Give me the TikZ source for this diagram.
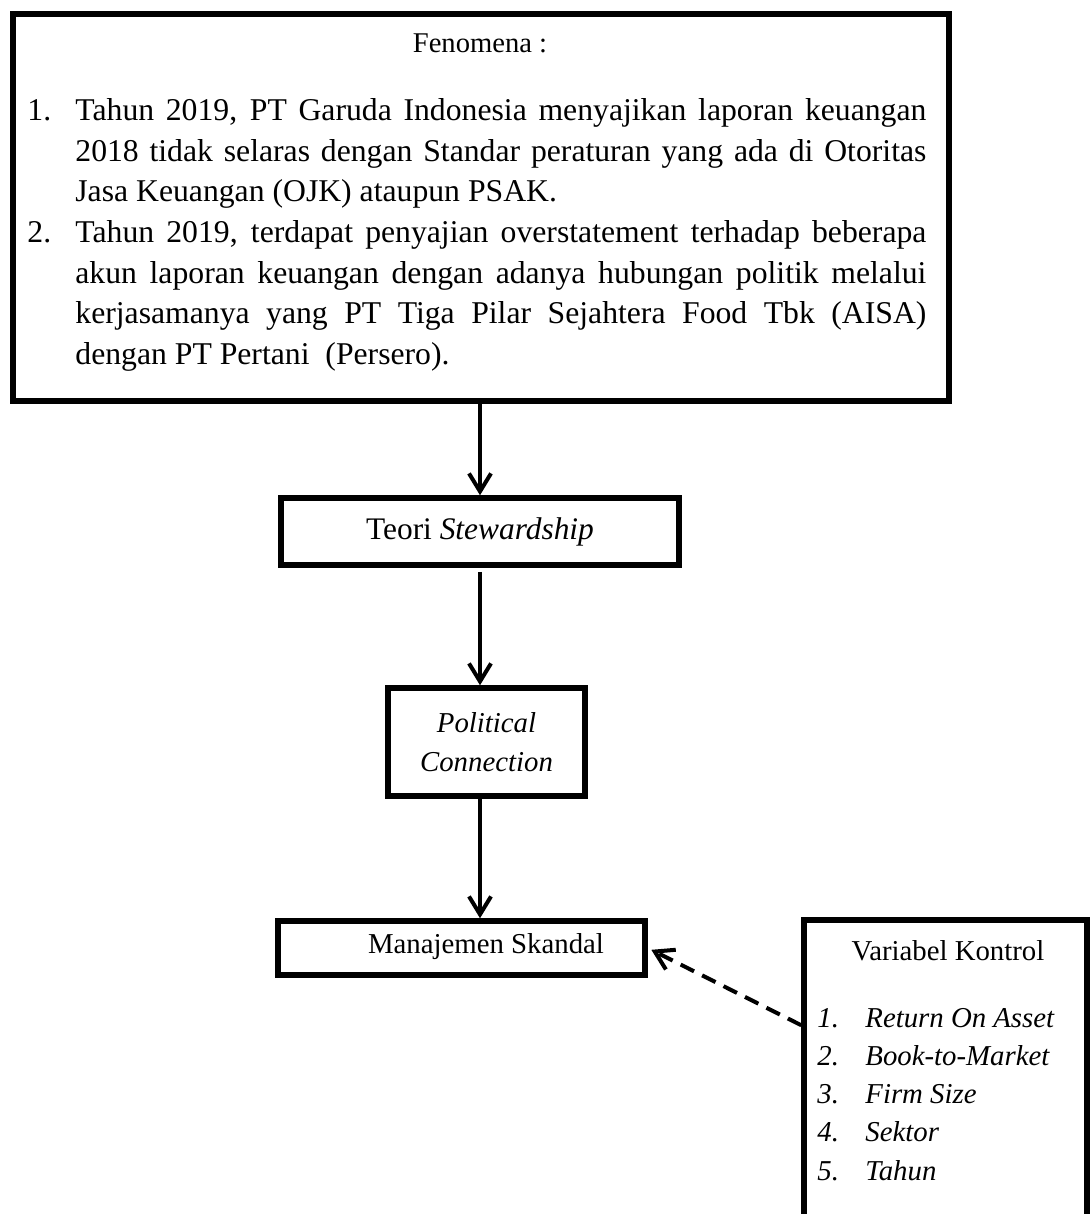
\documentclass[tikz,border=0pt]{standalone}
\usepackage{fontspec}
\setmainfont{Liberation Serif}
\usetikzlibrary{arrows.meta}

\newcommand{\bigtext}{\fontsize{15.85}{20.25}\selectfont}
\newcommand{\midtext}{\fontsize{15.7}{19.5}\selectfont}
\newcommand{\smalltext}{\fontsize{14.4}{19.15}\selectfont}

\begin{document}
\begin{tikzpicture}[x=0.5pt,y=-0.5pt]
	\tikzstyle{box}=[draw, line width=2.75pt, inner sep=0pt]
	\tikzstyle{flow}=[draw, line width=2pt, -{Straight Barb[length=9pt,width=11pt]}]
	\tikzstyle{ctrl}=[flow, dash pattern=on 7.5pt off 4.5pt]
	\tikzstyle{item}=[font=\bigtext, anchor=base west, inner sep=0pt]
	\useasboundingbox (0,0) rectangle (1091,1214);
	\clip (0,0) rectangle (1091,1214);
	% fenomena
	\node [box, minimum width=468pt, minimum height=193.5pt] (fen) at (481,207.5) {};
	\node [font=\fontsize{14.3}{17}\selectfont, anchor=base] (fentitle) at (480,53) {Fenomena :};
	\node [item] (n1) at (27,121) {1.};
	\node [item, text width=425.5pt, align=justify] (f1) at (75,121) {Tahun 2019, PT Garuda Indonesia menyajikan laporan keuangan\linebreak 2018 tidak selaras dengan Standar peraturan yang ada di Otoritas\linebreak Jasa Keuangan (OJK) ataupun PSAK.};
	\node [item] (n2) at (27,242.5) {2.};
	\node [item, text width=425.5pt, align=justify] (f2) at (75,242.5) {Tahun 2019, terdapat penyajian overstatement terhadap beberapa\linebreak akun laporan keuangan dengan adanya hubungan politik melalui\linebreak kerjasamanya yang PT Tiga Pilar Sejahtera Food Tbk (AISA)\linebreak dengan PT Pertani~ (Persero).};
	% alur
	\node [box, minimum width=199pt, minimum height=33.5pt, font=\midtext] (teori) at (480,531.5) {Teori \textit{Stewardship}};
	\node [box, minimum width=98.5pt, minimum height=54pt, font=\smalltext\itshape, align=center] (pol) at (486.5,742) {Political\\Connection};
	\node [box, minimum width=183.5pt, minimum height=27pt] (mgmt) at (461.5,948) {};
	\node [font=\smalltext] (mgmttext) at (486,947) {Manajemen Skandal};
	\path[flow] (teori.north |- fen.south) -- (teori.north);
	\path[flow, shorten <=2pt] (teori.south) -- (teori.south |- pol.north);
	\path[flow] (teori.south |- pol.south) -- (teori.south |- mgmt.north);
	% variabel kontrol
	\node [box, minimum width=141.5pt, minimum height=170pt] (var) at (945.5,1090) {};
	\node [font=\smalltext, anchor=base] (vartitle) at (948,960) {Variabel Kontrol};
	\foreach \name [count=\i] in {Return On Asset, Book-to-Market, Firm Size, Sektor, Tahun} {
		\node [font=\smalltext\itshape, anchor=base west, inner sep=0pt] (vnum\i) at (817,{1027+38.3*(\i-1)}) {\i.};
		\node [font=\smalltext\itshape, anchor=base west, inner sep=0pt] (vitem\i) at (865,{1027+38.3*(\i-1)}) {\name};
	}
	\coordinate (ctrlin) at ([yshift=-54pt]var.north west);
	\path[ctrl, shorten >=2pt] (ctrlin) -- (mgmt.east);
\end{tikzpicture}
\end{document}
